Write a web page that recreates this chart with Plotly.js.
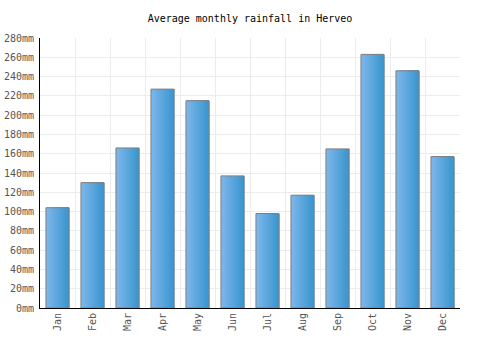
<!DOCTYPE html>
<html>
<head>
<meta charset="utf-8">
<script src="https://cdn.plot.ly/plotly-3.0.1.min.js"></script>
<style>html,body{margin:0;padding:0;background:#fff;}#chart{width:500px;height:350px;}</style>
</head>
<body>
<div id="chart"></div>
<script>
const months = ["Jan","Feb","Mar","Apr","May","Jun","Jul","Aug","Sep","Oct","Nov","Dec"];
const rainfall = [104, 130, 166, 227, 215, 137, 98, 117, 165, 263, 246, 157];
const yTicks = [0,20,40,60,80,100,120,140,160,180,200,220,240,260,280];
const yTickLabels = yTicks.map(v => v + "mm");

const font = "DejaVu Sans Mono, monospace";

// horizontal gradient emulated with overlaid bar layers, each starting further right
const barWidth = 0.66;
const nStrips = 14;
const c0 = [124, 182, 234], c1 = [58, 150, 207];
const traces = [];
for (let i = 0; i < nStrips; i++) {
  const t = i / (nStrips - 1);
  const c = c0.map((v, k) => Math.round(v + (c1[k] - v) * t));
  const w = barWidth / nStrips;
  traces.push({
    type: "bar", x: months, y: rainfall,
    width: barWidth - i * w,
    offset: -barWidth / 2 + i * w,
    marker: {color: `rgb(${c[0]},${c[1]},${c[2]})`, line: {width: 0}},
    hoverinfo: "skip"
  });
}
traces.push({
  type: "bar", x: months, y: rainfall,
  width: barWidth, offset: -barWidth / 2,
  marker: {color: "rgba(0,0,0,0)", line: {color: "#808080", width: 1}},
  hoverinfo: "x+y"
});

Plotly.newPlot("chart", traces, {
  width: 500, height: 350,
  margin: {l: 40, r: 40, t: 38, b: 42},
  paper_bgcolor: "#fff", plot_bgcolor: "#fff",
  barmode: "overlay",
  showlegend: false,
  title: {text: "Average monthly rainfall in Herveo", x: 0.5, xanchor: "center", y: 0.946, yanchor: "middle",
          font: {family: font, size: 10, color: "#000"}},
  xaxis: {
    type: "category",
    tickson: "boundaries",
    showgrid: true, gridcolor: "#ececec", gridwidth: 1,
    ticks: "", tickangle: -90,
    tickfont: {family: font, size: 10, color: "#555"},
    showline: true, linecolor: "#000", linewidth: 1,
    fixedrange: true
  },
  yaxis: {
    range: [0, 280],
    tickvals: yTicks, ticktext: yTickLabels,
    showgrid: true, gridcolor: "#ececec", gridwidth: 1,
    zeroline: false,
    ticks: "", ticklabelstandoff: 3,
    tickfont: {family: font, size: 10, color: "#555"},
    showline: true, linecolor: "#000", linewidth: 1,
    fixedrange: true
  }
}, {displayModeBar: false, staticPlot: true});
</script>
</body>
</html>
